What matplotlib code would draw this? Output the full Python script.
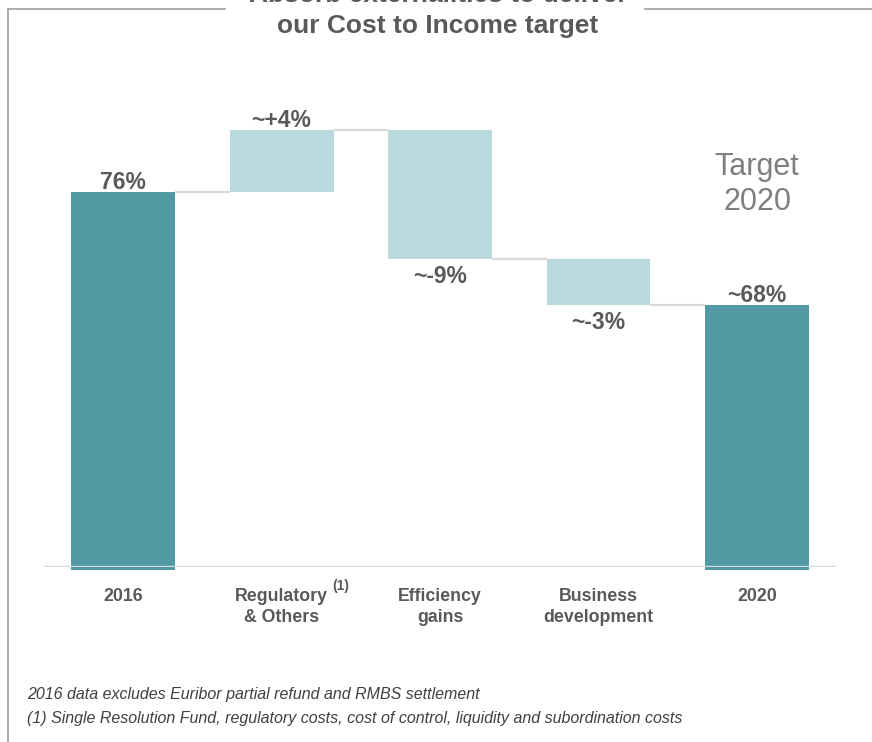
import matplotlib
matplotlib.use("Agg")
import matplotlib.pyplot as plt
from matplotlib.lines import Line2D

plt.rcParams['font.family'] = ['Liberation Sans', 'DejaVu Sans']

# data (bar heights as drawn; the slide is not to scale with its labels)
categories = ["2016", "Regulatory\n& Others", "Efficiency\ngains", "Business\ndevelopment", "2020"]
bar_heights = [76.0, 12.6, -26.2, -9.3, 53.1]
bar_labels = ["76%", "~+4%", "~-9%", "~-3%", "~68%"]
is_total = [True, False, False, False, True]

dark = "#519aa3"
light = "#b9d9dc"
grey_txt = "#595959"
line_grey = "#d9d9d9"

fig = plt.figure(figsize=(8.72, 7.42), dpi=100)
ax = fig.add_axes([0.0502, 0.2358, 0.9088, 0.6321])

# running totals for the waterfall
bottoms = []
tops = []
level = 0
for h, tot in zip(bar_heights, is_total):
    if tot:
        bottoms.append(0)
        tops.append(h)
        level = h
    else:
        bottoms.append(level)
        level = level + h
        tops.append(level)

width = 0.656
for i in range(len(categories)):
    if is_total[i]:
        ax.bar(i, tops[i] + 0.6, bottom=-0.6, width=width, color=dark, clip_on=False, zorder=2)
    else:
        ax.bar(i, tops[i] - bottoms[i], bottom=bottoms[i], width=width, color=light, zorder=2)

# connectors between bars
for i in range(len(categories) - 1):
    ax.plot([i + width / 2, i + 1 - width / 2], [tops[i], tops[i]], color=line_grey, lw=1.6, zorder=1,
            solid_capstyle='butt')

ax.axhline(0, color=line_grey, lw=2.4, zorder=3)

# value labels
for i, lab in enumerate(bar_labels):
    if bar_heights[i] >= 0:
        y = max(tops[i], bottoms[i])
        ax.annotate(lab, (i, y), xytext=(0, -1.5), textcoords='offset points', ha='center', va='bottom',
                    fontsize=16.5, fontweight='bold', color=grey_txt)
    else:
        y = min(tops[i], bottoms[i])
        ax.annotate(lab, (i, y), xytext=(0, -4.5), textcoords='offset points', ha='center', va='top',
                    fontsize=16.5, fontweight='bold', color=grey_txt)

ax.text(4, 77.6, "Target\n2020", ha='center', va='center', fontsize=22, color="#7f7f7f",
        linespacing=1.22)

ax.set_xlim(-0.5, 4.5)
ax.set_ylim(0, 95.05)
ax.set_xticks(range(len(categories)))
ax.set_xticklabels(categories, fontsize=12.8, fontweight='bold', color=grey_txt, linespacing=1.3)
ax.tick_params(axis='x', length=0, pad=15)
ax.set_yticks([])
for s in ax.spines.values():
    s.set_visible(False)

# superscript footnote mark on "Regulatory"
ax.annotate("(1)", (1, 0), xytext=(43, -14), textcoords='offset points', ha='center', va='center',
            fontsize=10, fontweight='bold', color=grey_txt, annotation_clip=False)

# title (top line is cut by the slide crop, as in the original)
fig.text(0.5023, 1 - 26 / 742, "our Cost to Income target",
         ha='center', va='center', fontsize=19, fontweight='bold', color=grey_txt)
fig.text(0.5023, 1 + 5 / 742, "Absorb externalities to deliver",
         ha='center', va='center', fontsize=19, fontweight='bold', color=grey_txt)

# slide frame
frame_c = "#a0a0a0"
fig.add_artist(Line2D([8 / 872, 8 / 872], [0, 1 - 9 / 742], color=frame_c, lw=1.2))
fig.add_artist(Line2D([8 / 872, 225 / 872], [1 - 9 / 742, 1 - 9 / 742], color=frame_c, lw=1.2))
fig.add_artist(Line2D([645 / 872, 1], [1 - 9 / 742, 1 - 9 / 742], color=frame_c, lw=1.2))

# footnotes
fig.text(27 / 872, 1 - 694 / 742, "2016 data excludes Euribor partial refund and RMBS settlement",
         ha='left', va='center', fontsize=11.5, style='italic', color="#404040")
fig.text(27 / 872, 1 - 719 / 742,
         "(1) Single Resolution Fund, regulatory costs, cost of control, liquidity and subordination costs",
         ha='left', va='center', fontsize=11.5, style='italic', color="#404040")

fig.savefig("out.png", dpi=100)
